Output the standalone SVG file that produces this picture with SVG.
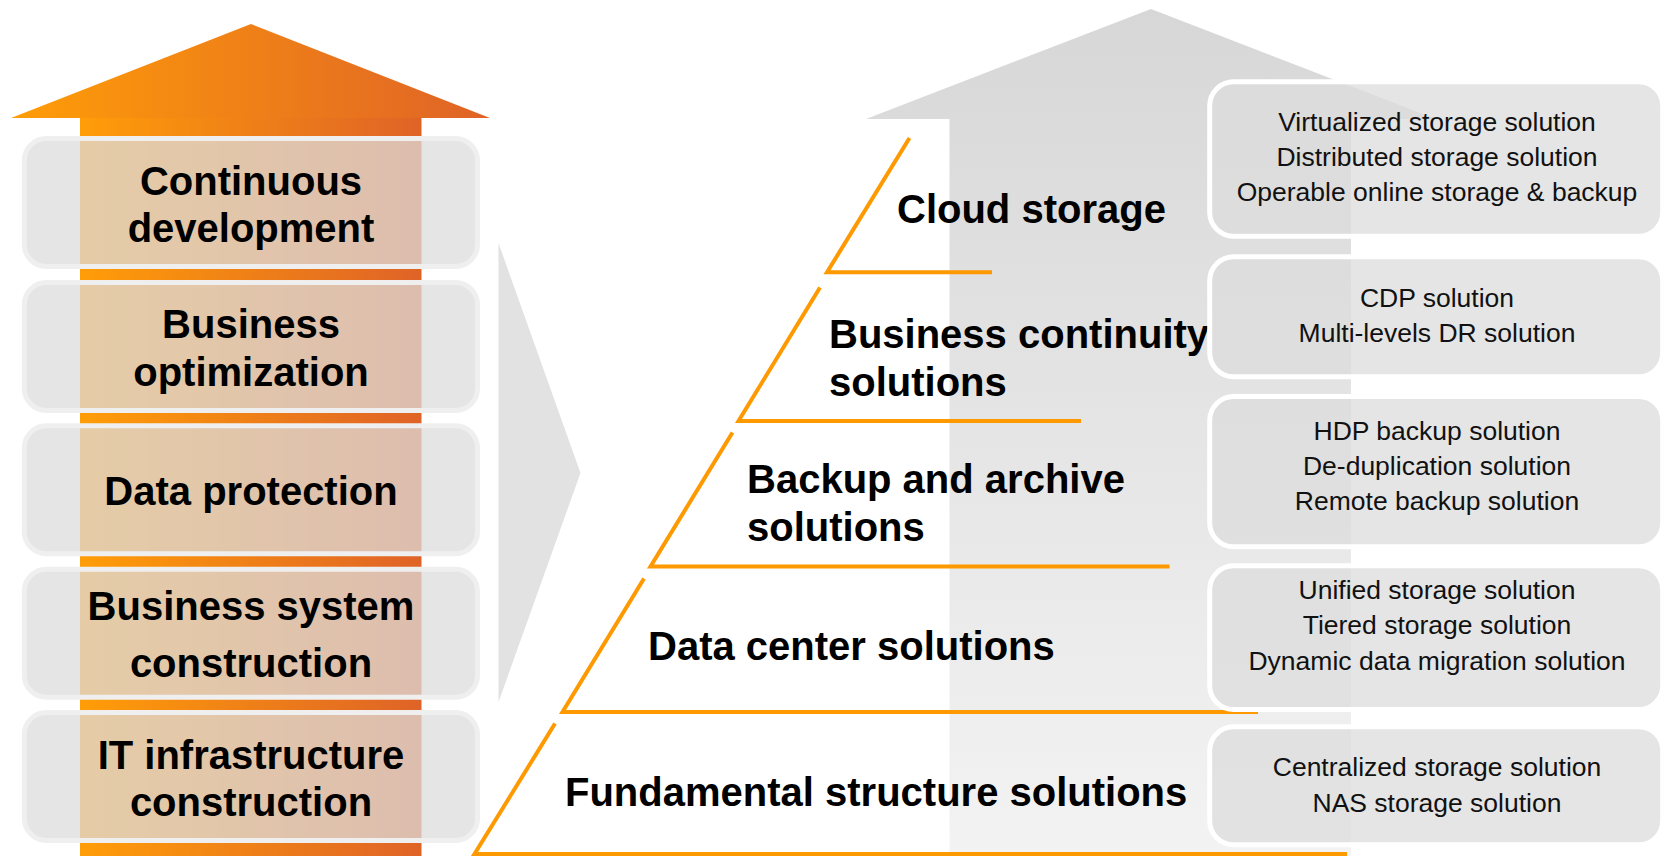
<svg xmlns="http://www.w3.org/2000/svg" width="1665" height="856" viewBox="0 0 1665 856">
<defs>
<linearGradient id="og" x1="0" y1="0" x2="1" y2="0">
<stop offset="0" stop-color="#ff9d08"/>
<stop offset="1" stop-color="#df6327"/>
</linearGradient>
<linearGradient id="gg" gradientUnits="userSpaceOnUse" x1="0" y1="9" x2="0" y2="856">
<stop offset="0" stop-color="#d7d7d7"/>
<stop offset="1" stop-color="#f3f3f3"/>
</linearGradient>
<style>
.lb{fill:#dcdcdc;fill-opacity:0.75;stroke:#efefef;stroke-width:5}
.rb{fill:#dcdcdc;fill-opacity:0.75;stroke:#ffffff;stroke-width:5}
.bt{font-family:"Liberation Sans",Arial,sans-serif;font-weight:bold;font-size:40px;fill:#000}
.ct{text-anchor:middle}
.rt{font-family:"Liberation Sans",Arial,sans-serif;font-size:26.5px;fill:#111;text-anchor:middle}
.ol{fill:none;stroke:#ff9900;stroke-width:4;stroke-linejoin:miter}
</style>
</defs>
<rect width="1665" height="856" fill="#ffffff"/>

<g id="orange-arrow">
<polygon points="251,24 490,118 11,118" fill="url(#og)"/>
<rect x="80" y="118" width="341.5" height="738" fill="url(#og)"/>
</g>

<g id="gray-arrow">
<polygon points="1151,9 1436,119 1351,119 1351,856 949.5,856 949.5,119 866,119" fill="url(#gg)"/>
</g>

<g id="chevron">
<polygon points="498.5,243 580.5,473 498.5,702" fill="#e2e2e2"/>
</g>

<g id="stage-continuous-development">
<rect class="lb" x="24.3" y="138.5" width="453.2" height="128" rx="22"/>
<text class="bt ct" x="251" y="195">Continuous</text>
<text class="bt ct" x="251" y="242">development</text>
</g>
<g id="stage-business-optimization">
<rect class="lb" x="24.3" y="282.5" width="453.2" height="128" rx="22"/>
<text class="bt ct" x="251" y="338">Business</text>
<text class="bt ct" x="251" y="385.5">optimization</text>
</g>
<g id="stage-data-protection">
<rect class="lb" x="24.3" y="425.8" width="453.2" height="128" rx="22"/>
<text class="bt ct" x="251" y="504.5">Data protection</text>
</g>
<g id="stage-business-system-construction">
<rect class="lb" x="24.3" y="569.3" width="453.2" height="128" rx="22"/>
<text class="bt ct" x="251" y="620">Business system</text>
<text class="bt ct" x="251" y="677">construction</text>
</g>
<g id="stage-it-infrastructure-construction">
<rect class="lb" x="24.3" y="712.5" width="453.2" height="128" rx="22"/>
<text class="bt ct" x="251" y="768.5">IT infrastructure</text>
<text class="bt ct" x="251" y="816">construction</text>
</g>

<g id="connectors">
<polyline class="ol" points="909.5,138 827,272.3 992,272.3"/>
<polyline class="ol" points="820,287.5 738.5,421 1081,421"/>
<polyline class="ol" points="732.5,432.5 650.5,566.5 1169.5,566.5"/>
<polyline class="ol" points="644,578.5 562.5,712 1258,712"/>
<polyline class="ol" points="555,723.5 474.5,854 1347,854"/>
</g>

<g id="level-cloud-storage">
<text class="bt" x="897" y="222.7">Cloud storage</text>
</g>
<g id="level-business-continuity">
<text class="bt" x="829" y="347.7">Business continuity</text>
<text class="bt" x="829" y="395.7">solutions</text>
</g>
<g id="level-backup-archive">
<text class="bt" x="747" y="493.3">Backup and archive</text>
<text class="bt" x="747" y="540.7">solutions</text>
</g>
<g id="level-data-center">
<text class="bt" x="648" y="660">Data center solutions</text>
</g>
<g id="level-fundamental">
<text class="bt" x="565" y="806">Fundamental structure solutions</text>
</g>

<g id="box-cloud">
<rect class="rb" x="1209.7" y="81.8" width="453" height="154.4" rx="24"/>
<text class="rt" x="1437" y="130.7">Virtualized storage solution</text>
<text class="rt" x="1437" y="165.7">Distributed storage solution</text>
<text class="rt" x="1437" y="200.5">Operable online storage &amp; backup</text>
</g>
<g id="box-continuity">
<rect class="rb" x="1209.7" y="256.8" width="453" height="120" rx="24"/>
<text class="rt" x="1437" y="306.7">CDP solution</text>
<text class="rt" x="1437" y="341.7">Multi-levels DR solution</text>
</g>
<g id="box-backup">
<rect class="rb" x="1209.7" y="396.5" width="453" height="150.3" rx="24"/>
<text class="rt" x="1437" y="440">HDP backup solution</text>
<text class="rt" x="1437" y="475">De-duplication solution</text>
<text class="rt" x="1437" y="510">Remote backup solution</text>
</g>
<g id="box-datacenter">
<rect class="rb" x="1209.7" y="565.8" width="453" height="143.7" rx="24"/>
<text class="rt" x="1437" y="599.3">Unified storage solution</text>
<text class="rt" x="1437" y="634.3">Tiered storage solution</text>
<text class="rt" x="1437" y="669.5">Dynamic data migration solution</text>
</g>
<g id="box-fundamental">
<rect class="rb" x="1209.7" y="726.8" width="453" height="118" rx="24"/>
<text class="rt" x="1437" y="776">Centralized storage solution</text>
<text class="rt" x="1437" y="811.5">NAS storage solution</text>
</g>
</svg>
